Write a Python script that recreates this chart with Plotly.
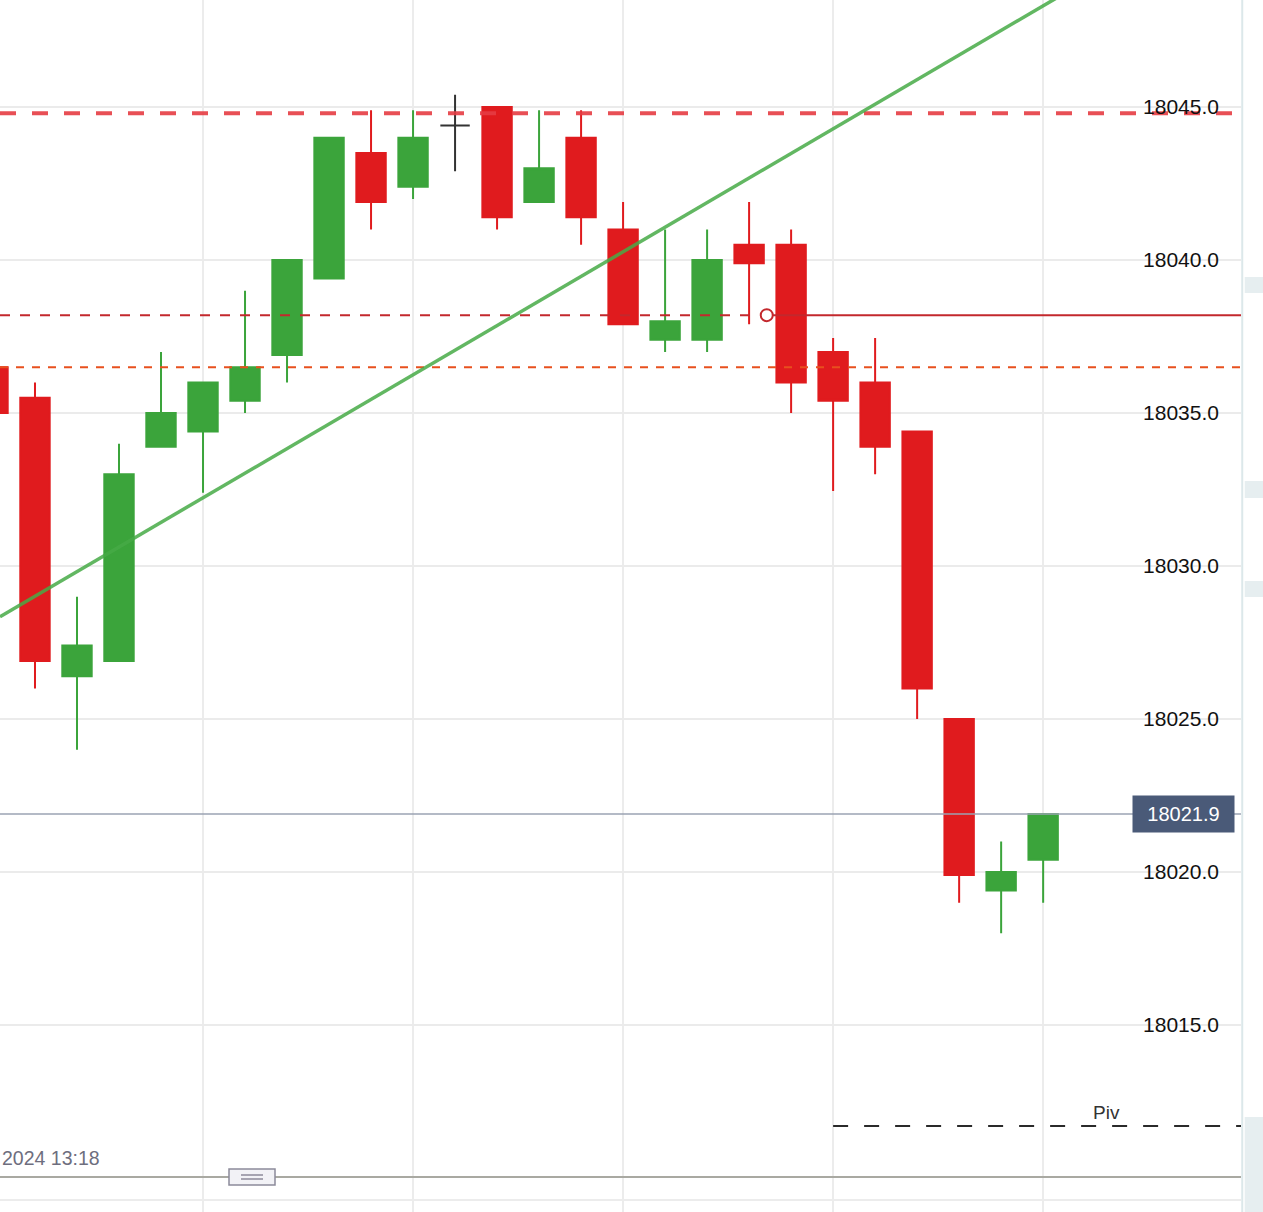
import plotly.graph_objects as go

# candle index (one per bar), prices
idx = list(range(26))
open_ = [18036.5, 18035.5, 18026.4, 18026.9, 18033.9, 18034.4, 18035.4, 18036.9, 18039.4, 18043.5,
         18042.4, 18044.4, 18045.0, 18041.9, 18044.0, 18041.0, 18037.4, 18037.4, 18040.5, 18040.5,
         18037.0, 18036.0, 18034.4, 18025.0, 18019.4, 18020.4]
high = [18036.5, 18036.0, 18029.0, 18034.0, 18037.0, 18036.0, 18039.0, 18040.0, 18044.0, 18044.9,
        18044.9, 18045.4, 18045.0, 18044.9, 18044.9, 18041.9, 18041.0, 18041.0, 18041.9, 18041.0,
        18037.45, 18037.45, 18034.4, 18025.0, 18021.0, 18021.9]
low = [18035.0, 18026.0, 18024.0, 18026.9, 18033.9, 18032.4, 18035.0, 18036.0, 18039.4, 18041.0,
       18042.0, 18042.9, 18041.0, 18041.9, 18040.5, 18037.9, 18037.0, 18037.0, 18037.9, 18035.0,
       18032.45, 18033.0, 18025.0, 18019.0, 18018.0, 18019.0]
close = [18035.0, 18026.9, 18027.4, 18033.0, 18035.0, 18036.0, 18036.5, 18040.0, 18044.0, 18041.9,
         18044.0, 18044.4, 18041.4, 18043.0, 18041.4, 18037.9, 18038.0, 18040.0, 18039.9, 18036.0,
         18035.4, 18033.9, 18026.0, 18019.9, 18020.0, 18021.9]

# horizontal levels
resist_level = 18044.8
alert_level = 18038.2
alert_x = 18.42
support_level = 18036.5
last_price = 18021.9
pivot_level = 18011.7
pivot_start = 20
pivot_label_x = 26.5

# trendline anchors
trend_x = [2, 20]
trend_y = [18029.82, 18044.29]

y_ticks = [18015, 18020, 18025, 18030, 18035, 18040, 18045]
x_grid = [5, 10, 15, 20, 25]
x_range = [0.167, 29.71]
y_range = [18008.89, 18048.5]

GREEN = "#3ba43b"
RED = "#e01b1e"

up_dn = [i for i in idx if open_[i] != close[i]]
doji = [i for i in idx if open_[i] == close[i]]

fig = go.Figure()

# last price line (behind candles)
fig.add_trace(go.Scatter(x=x_range, y=[last_price, last_price], mode="lines",
                         line=dict(color="#9ba3b3", width=1.5), hoverinfo="skip"))

fig.add_trace(go.Candlestick(
    x=[idx[i] for i in up_dn],
    open=[open_[i] for i in up_dn], high=[high[i] for i in up_dn],
    low=[low[i] for i in up_dn], close=[close[i] for i in up_dn],
    increasing=dict(fillcolor=GREEN, line=dict(color=GREEN, width=2)),
    decreasing=dict(fillcolor=RED, line=dict(color=RED, width=2)),
    hoverinfo="skip"))
fig.add_trace(go.Candlestick(
    x=[idx[i] for i in doji],
    open=[open_[i] for i in doji], high=[high[i] for i in doji],
    low=[low[i] for i in doji], close=[close[i] for i in doji],
    increasing=dict(fillcolor="#333333", line=dict(color="#333333", width=2)),
    decreasing=dict(fillcolor="#333333", line=dict(color="#333333", width=2)),
    hoverinfo="skip"))

# dashed levels
fig.add_trace(go.Scatter(x=x_range, y=[resist_level] * 2, mode="lines",
                         line=dict(color="rgba(230,60,66,0.9)", width=4, dash="16px,16px"), hoverinfo="skip"))
fig.add_trace(go.Scatter(x=x_range, y=[support_level] * 2, mode="lines",
                         line=dict(color="#e8501e", width=2, dash="8px,8px"), hoverinfo="skip"))
fig.add_trace(go.Scatter(x=[x_range[0], alert_x], y=[alert_level] * 2, mode="lines",
                         line=dict(color="#c3282d", width=2, dash="10px,10px"), hoverinfo="skip"))
fig.add_trace(go.Scatter(x=[alert_x, x_range[1]], y=[alert_level] * 2, mode="lines",
                         line=dict(color="#c3282d", width=2), hoverinfo="skip"))
fig.add_trace(go.Scatter(x=[alert_x], y=[alert_level], mode="markers",
                         marker=dict(color="white", size=12, line=dict(color="#c3282d", width=2)),
                         hoverinfo="skip"))
fig.add_trace(go.Scatter(x=[pivot_start, x_range[1]], y=[pivot_level] * 2, mode="lines",
                         line=dict(color="#2a2a2a", width=2, dash="15px,16px"), hoverinfo="skip"))

# trendline extended to the edges of the view
slope = (trend_y[1] - trend_y[0]) / (trend_x[1] - trend_x[0])
tx = [x_range[0], x_range[1]]
ty = [trend_y[0] + slope * (v - trend_x[0]) for v in tx]
fig.add_trace(go.Scatter(x=tx, y=ty, mode="lines",
                         line=dict(color="rgba(70,170,70,0.85)", width=3.5), hoverinfo="skip"))

fig.add_annotation(x=pivot_label_x, y=pivot_level, yshift=14, text="Piv", showarrow=False,
                   font=dict(size=19, color="#333", family="Liberation Sans"))
fig.add_annotation(x=1235 / 1241, xref="paper", y=last_price, yref="y", xanchor="right",
                   text="18021.9", showarrow=False, bgcolor="#4a5a78", borderpad=7,
                   width=87, height=22, align="center",
                   font=dict(size=20, color="white", family="Liberation Sans"))
fig.add_annotation(x=0, xref="paper", y=1 - 1158 / 1212, yref="paper", xanchor="left", yanchor="middle",
                   text="2024 13:18", showarrow=False,
                   font=dict(size=19.5, color="#6e6e7e", family="Liberation Sans"))

shapes = [
    # pane separator + handle
    dict(type="line", xref="paper", yref="paper", x0=0, x1=1, y0=1 - 1177 / 1212, y1=1 - 1177 / 1212,
         line=dict(color="#a9a9a2", width=2)),
    dict(type="line", xref="paper", yref="paper", x0=0, x1=1, y0=1 - 1200 / 1212, y1=1 - 1200 / 1212,
         line=dict(color="#ececec", width=2)),
    dict(type="rect", xref="paper", yref="paper", x0=229 / 1241, x1=275 / 1241,
         y0=1 - 1185 / 1212, y1=1 - 1169 / 1212, fillcolor="#f2f2f6", line=dict(color="#8c8a9a", width=1.5)),
    dict(type="line", xref="paper", yref="paper", x0=241 / 1241, x1=263 / 1241,
         y0=1 - 1175 / 1212, y1=1 - 1175 / 1212, line=dict(color="#8c8a9a", width=1.5)),
    dict(type="line", xref="paper", yref="paper", x0=241 / 1241, x1=263 / 1241,
         y0=1 - 1179 / 1212, y1=1 - 1179 / 1212, line=dict(color="#8c8a9a", width=1.5)),
    # right border strip
    dict(type="line", xref="paper", yref="paper", x0=1.001, x1=1.001, y0=0, y1=1,
         line=dict(color="#dce8ea", width=2)),
]
for top, bot in [(277, 293), (481, 498), (581, 597), (1117, 1212)]:
    shapes.append(dict(type="rect", xref="paper", yref="paper", x0=1.003, x1=1.02,
                       y0=1 - bot / 1212, y1=1 - top / 1212, fillcolor="#e6eef0", line=dict(width=0)))

fig.update_layout(
    width=1263, height=1212,
    margin=dict(l=0, r=22, t=0, b=0),
    paper_bgcolor="white", plot_bgcolor="white",
    showlegend=False,
    boxgap=0.3, boxgroupgap=0,
    shapes=shapes,
    xaxis=dict(range=x_range, tickvals=x_grid, showticklabels=False, showgrid=True,
               gridcolor="#ececec", gridwidth=1.5, zeroline=False, rangeslider=dict(visible=False),
               fixedrange=True),
    yaxis=dict(range=y_range, side="right", tickvals=y_ticks, tickformat=".1f",
               ticklabelposition="inside", ticklabelstandoff=19, ticks="",
               showgrid=True, gridcolor="#ebebeb", gridwidth=1.5, zeroline=False,
               tickfont=dict(size=21, color="#111", family="Liberation Sans")),
)

# page body has a default 8px margin; drop it so the figure sits at the window's corner
fig.write_html("out.html", config={"displayModeBar": False},
               post_script="document.body.style.margin='0';")
